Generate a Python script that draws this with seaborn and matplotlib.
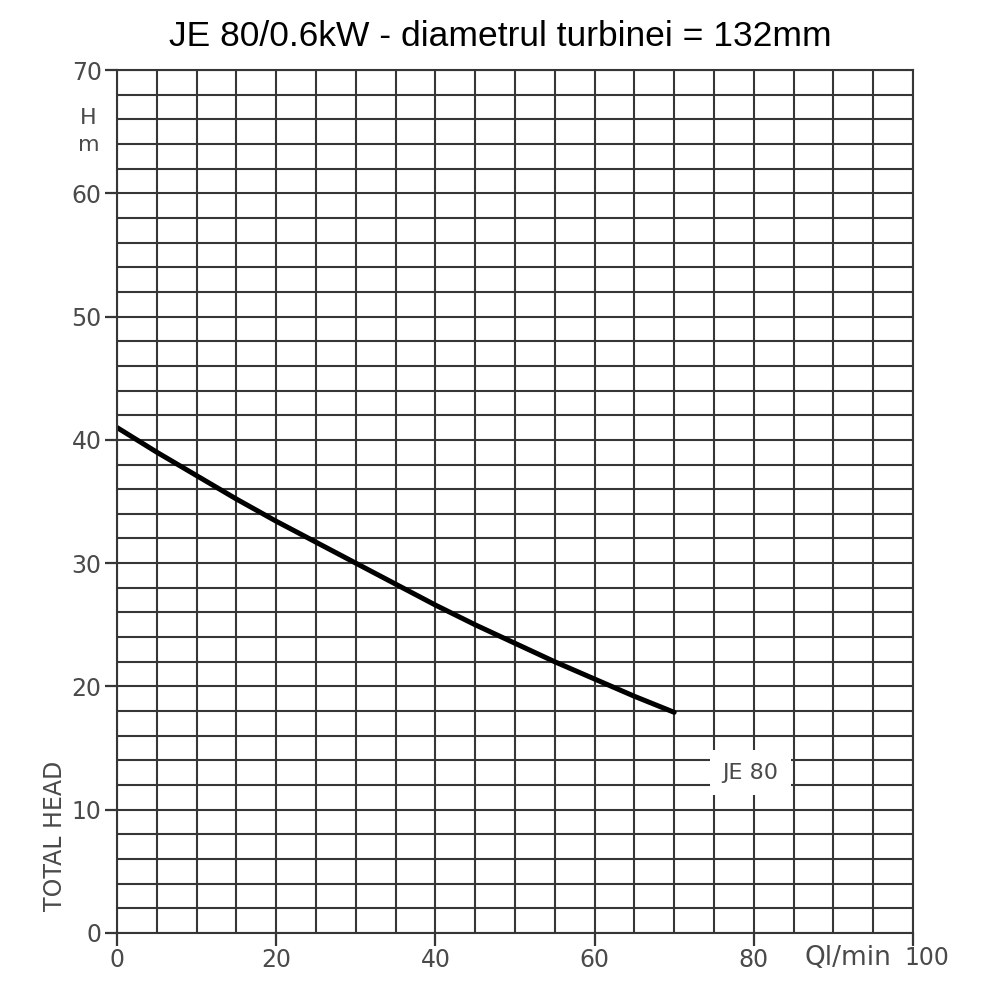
import seaborn as sns
import numpy as np
import pandas as pd
import matplotlib.pyplot as plt
from matplotlib.ticker import MultipleLocator

# debit (l/min) si inaltimea de pompare (m)
flow = [0, 5, 10, 15, 20, 25, 30, 35, 40, 45, 50, 55, 60, 65, 70]
head = [41.0, 39.0, 37.1, 35.2, 33.4, 31.7, 30.0, 28.3, 26.6, 25.0, 23.5, 22.0, 20.6, 19.2, 17.9]

x_ticks = [0, 20, 40, 60, 80, 100]
x_labels = ["0", "20", "40", "60", "80", ""]
y_ticks = [0, 10, 20, 30, 40, 50, 60, 70]

df = pd.DataFrame({"flow": flow, "head": head})

sns.set_style("white")
fig = plt.figure(figsize=(10, 10), dpi=100)
ax = fig.add_axes([0.117, 0.067, 0.796, 0.863])

grid_col = "#363636"
lab_col = "#4a4a4a"

sns.lineplot(data=df, x="flow", y="head", color="black", linewidth=3.6, ax=ax)

ax.set_xlim(0, 100)
ax.set_ylim(0, 70)
ax.set_xticks(x_ticks)
ax.set_xticklabels(x_labels)
ax.set_yticks(y_ticks)
ax.xaxis.set_minor_locator(MultipleLocator(5))
ax.yaxis.set_minor_locator(MultipleLocator(2))
ax.grid(which="both", color=grid_col, linewidth=1.5)
ax.set_axisbelow(True)
ax.tick_params(which="major", bottom=True, left=True, direction="out", length=9,
               width=1.6, color=grid_col, labelsize=17, labelcolor=lab_col, pad=2)
ax.tick_params(which="minor", length=0)
for s in ax.spines.values():
    s.set_color(grid_col)
    s.set_linewidth(1.5)
ax.set_xlabel("")
ax.set_ylabel("")

ax.text(-3.6, 66.1, "H", ha="center", va="center", fontsize=16, color=lab_col, clip_on=False)
ax.text(-3.6, 63.9, "m", ha="center", va="center", fontsize=16, color=lab_col, clip_on=False)
ax.text(-7.8, 7.9, "TOTAL HEAD", ha="center", va="center", rotation=90,
        fontsize=17, color=lab_col, clip_on=False)
ax.text(91.8, -2.0, "Ql/min", ha="center", va="center", fontsize=19, color=lab_col, clip_on=False)
ax.text(101.8, -2.0, "100", ha="center", va="center", fontsize=17, color=lab_col, clip_on=False)
ax.text(79.6, 13.0, "JE 80", ha="center", va="center", fontsize=16, color=lab_col,
        bbox=dict(facecolor="white", edgecolor="none", pad=9))

fig.suptitle("JE 80/0.6kW - diametrul turbinei = 132mm", x=0.5, y=0.963, va="center",
             fontsize=25.5, color="black", family="Liberation Sans")

fig.savefig("out.png", dpi=100)
